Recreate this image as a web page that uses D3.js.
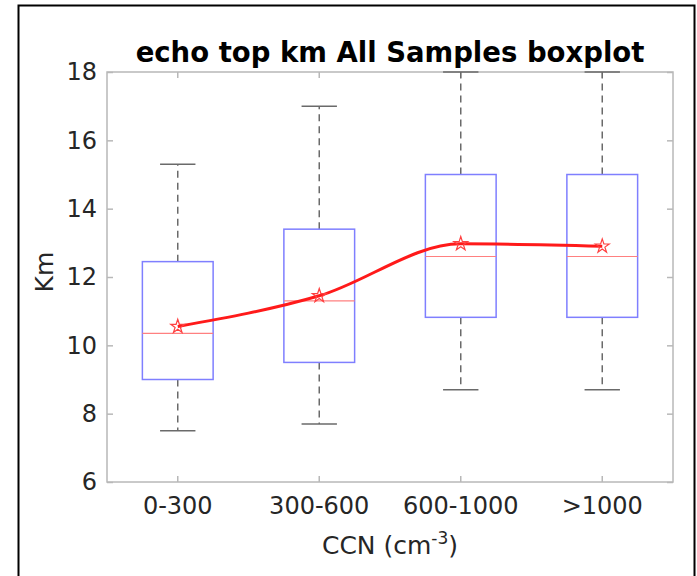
<!DOCTYPE html>
<html>
<head>
<meta charset="utf-8">
<script src="https://cdn.jsdelivr.net/npm/d3@7"></script>
<style>
  body { margin: 0; background: #fff; }
  text { font-family: "DejaVu Sans", sans-serif; }
</style>
</head>
<body>
<div id="vis-holder"></div>
<script>
// Data
const categories = ["0-300", "300-600", "600-1000", ">1000"];
const whiskerLow = [7.5, 7.7, 8.7, 8.7];
const q1 = [9.0, 9.5, 10.82, 10.82];
const median = [10.35, 11.3, 12.6, 12.6];
const q3 = [12.45, 13.4, 15.0, 15.0];
const whiskerHigh = [15.3, 17.0, 18.0, 18.0];
const means = [10.55, 11.45, 12.97, 12.9];
const yTicks = [6, 8, 10, 12, 14, 16, 18];

const width = 697;
const height = 576;
const margin = { top: 72, right: 24, bottom: 94, left: 107 };

const svg = d3.select("#vis-holder")
    .append("svg")
    .attr("width", width)
    .attr("height", height);

// outer figure frame
svg.append("rect")
    .attr("x", 18.5).attr("y", 5.5)
    .attr("width", 676).attr("height", 620)
    .attr("fill", "none")
    .attr("stroke", "#000")
    .attr("stroke-width", 2);

const x = d3.scaleBand()
    .domain(categories)
    .range([margin.left, width - margin.right])
    .padding(0);

const y = d3.scaleLinear()
    .domain([6, 18])
    .range([height - margin.bottom, margin.top]);

const cx = (c) => x(c) + x.bandwidth() / 2;
const boxW = x.bandwidth() * 0.5;
const capW = x.bandwidth() * 0.25;
const axisColor = "#b8b8b8";
const textColor = "#262626";

// plot box
svg.append("rect")
    .attr("x", margin.left).attr("y", margin.top)
    .attr("width", width - margin.left - margin.right)
    .attr("height", height - margin.top - margin.bottom)
    .attr("fill", "none")
    .attr("stroke", axisColor)
    .attr("stroke-width", 1.5);

// Axes (ticks inside, MATLAB style)
const yAxis = svg.append("g")
    .attr("transform", `translate(${margin.left},0)`)
    .call(d3.axisLeft(y).tickValues(yTicks).tickSize(-6).tickPadding(10));
yAxis.select(".domain").remove();
yAxis.selectAll("line").attr("stroke", axisColor).attr("stroke-width", 1.5);
yAxis.selectAll("text").attr("font-size", "24px").attr("fill", textColor)
    .style("font-family", "DejaVu Sans, sans-serif");

const yAxisR = svg.append("g")
    .attr("transform", `translate(${width - margin.right},0)`)
    .call(d3.axisRight(y).tickValues(yTicks).tickSize(-6).tickFormat(""));
yAxisR.select(".domain").remove();
yAxisR.selectAll("line").attr("stroke", axisColor).attr("stroke-width", 1.5);

const xAxis = svg.append("g")
    .attr("transform", `translate(0,${height - margin.bottom})`)
    .call(d3.axisBottom(x).tickSize(-6).tickPadding(15));
xAxis.select(".domain").remove();
xAxis.selectAll("line").attr("stroke", axisColor).attr("stroke-width", 1.5);
xAxis.selectAll("text").attr("font-size", "24px").attr("fill", textColor)
    .style("font-family", "DejaVu Sans, sans-serif");

const xAxisT = svg.append("g")
    .attr("transform", `translate(0,${margin.top})`)
    .call(d3.axisTop(x).tickSize(-6).tickFormat(""));
xAxisT.select(".domain").remove();
xAxisT.selectAll("line").attr("stroke", axisColor).attr("stroke-width", 1.5);

// Boxplots
const boxes = categories.map((c, i) => ({
    c: c, lo: whiskerLow[i], q1: q1[i], med: median[i], q3: q3[i], hi: whiskerHigh[i]
}));

const g = svg.append("g");

// whiskers
g.selectAll(".wlo").data(boxes).enter().append("line")
    .attr("x1", (d) => cx(d.c)).attr("x2", (d) => cx(d.c))
    .attr("y1", (d) => y(d.q1)).attr("y2", (d) => y(d.lo))
    .attr("stroke", "#6a6a6a").attr("stroke-width", 1.5)
    .attr("stroke-dasharray", "7,5");
g.selectAll(".whi").data(boxes).enter().append("line")
    .attr("x1", (d) => cx(d.c)).attr("x2", (d) => cx(d.c))
    .attr("y1", (d) => y(d.q3)).attr("y2", (d) => y(d.hi))
    .attr("stroke", "#6a6a6a").attr("stroke-width", 1.5)
    .attr("stroke-dasharray", "7,5");

// caps
["lo", "hi"].forEach((k) => {
  g.selectAll(".cap-" + k).data(boxes).enter().append("line")
      .attr("x1", (d) => cx(d.c) - capW / 2).attr("x2", (d) => cx(d.c) + capW / 2)
      .attr("y1", (d) => y(d[k])).attr("y2", (d) => y(d[k]))
      .attr("stroke", "#6a6a6a").attr("stroke-width", 1.5);
});

// boxes
g.selectAll(".box").data(boxes).enter().append("rect")
    .attr("x", (d) => cx(d.c) - boxW / 2)
    .attr("y", (d) => y(d.q3))
    .attr("width", boxW)
    .attr("height", (d) => y(d.q1) - y(d.q3))
    .attr("fill", "none")
    .attr("stroke", "#7f7fff")
    .attr("stroke-width", 1.5);

// medians
g.selectAll(".med").data(boxes).enter().append("line")
    .attr("x1", (d) => cx(d.c) - boxW / 2).attr("x2", (d) => cx(d.c) + boxW / 2)
    .attr("y1", (d) => y(d.med)).attr("y2", (d) => y(d.med))
    .attr("stroke", "#ff8080").attr("stroke-width", 1.2);

// mean curve
const meanPts = categories.map((c, i) => [cx(c), y(means[i])]);
svg.append("path")
    .datum(meanPts)
    .attr("d", d3.line().curve(d3.curveMonotoneX))
    .attr("fill", "none")
    .attr("stroke", "#ff1a1a")
    .attr("stroke-width", 3);

// mean stars
svg.selectAll(".star").data(meanPts).enter().append("path")
    .attr("transform", (d) => `translate(${d[0]},${d[1]})`)
    .attr("d", d3.symbol().type(d3.symbolStar).size(60))
    .attr("fill", "none")
    .attr("stroke", "#ff4040")
    .attr("stroke-width", 1.2);

// Title and labels
svg.append("text")
    .attr("x", 390).attr("y", 62)
    .attr("text-anchor", "middle")
    .attr("font-size", "27.5px")
    .attr("font-weight", "bold")
    .attr("fill", "#000")
    .text("echo top km All Samples boxplot");

svg.append("text")
    .attr("transform", `translate(53,272) rotate(-90)`)
    .attr("text-anchor", "middle")
    .attr("font-size", "25px")
    .attr("fill", textColor)
    .text("Km");

const xl = svg.append("text")
    .attr("x", 390).attr("y", 554)
    .attr("text-anchor", "middle")
    .attr("font-size", "25px")
    .attr("fill", textColor);
xl.append("tspan").text("CCN (cm");
xl.append("tspan").attr("dy", -10).attr("font-size", "17px").text("-3");
xl.append("tspan").attr("dy", 10).text(")");
</script>
</body>
</html>
